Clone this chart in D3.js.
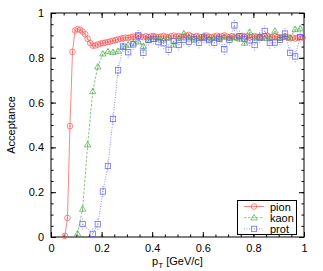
<!DOCTYPE html>
<html>
<head>
<meta charset="utf-8">
<script src="https://cdn.jsdelivr.net/npm/d3@7"></script>
<style>
  body { margin: 0; background: #fff; }
  text { font-family: "Liberation Sans", Arial, sans-serif; font-size: 11px; fill: #000; }
  .axis path { stroke: #000; }
  .axis line { stroke: #000; }
</style>
</head>
<body>
<script>
// tick labels
var xTicks = [0, 0.2, 0.4, 0.6, 0.8, 1];
var yTicks = [0, 0.2, 0.4, 0.6, 0.8, 1];

// pion: pT bin centres and acceptance
var pionPt = [0.055,0.065,0.075,0.085,0.095,0.105,0.115,0.125,0.135,0.145,
  0.155,0.165,0.175,0.185,0.195,0.205,0.215,0.225,0.235,0.245,
  0.255,0.265,0.275,0.285,0.295,0.305,0.315,0.325,0.335,0.345,
  0.355,0.365,0.375,0.385,0.395,0.405,0.415,0.425,0.435,0.445,
  0.455,0.465,0.475,0.485,0.495,0.505,0.515,0.525,0.535,0.545,
  0.555,0.565,0.575,0.585,0.595,0.605,0.615,0.625,0.635,0.645,
  0.655,0.665,0.675,0.685,0.695,0.705,0.715,0.725,0.735,0.745,
  0.755,0.765,0.775,0.785,0.795,0.805,0.815,0.825,0.835,0.845,
  0.855,0.865,0.875,0.885,0.895,0.905,0.915,0.925,0.935,0.945,
  0.955,0.965,0.975,0.985,0.995];
var pionAcc = [0.005,0.085,0.495,0.827,0.922,0.928,0.925,0.917,0.905,0.885,
  0.866,0.854,0.855,0.859,0.863,0.866,0.868,0.870,0.873,0.876,
  0.879,0.882,0.885,0.888,0.890,0.889,0.892,0.895,0.893,0.897,
  0.894,0.892,0.896,0.893,0.895,0.897,0.894,0.892,0.895,0.898,
  0.893,0.891,0.896,0.899,0.894,0.897,0.893,0.895,0.899,0.902,
  0.896,0.893,0.897,0.895,0.892,0.896,0.899,0.894,0.891,0.895,
  0.898,0.893,0.896,0.900,0.895,0.892,0.896,0.894,0.890,0.895,
  0.898,0.893,0.896,0.891,0.894,0.897,0.893,0.895,0.892,0.896,
  0.899,0.894,0.891,0.895,0.893,0.889,0.893,0.896,0.891,0.887,
  0.890,0.886,0.889,0.893,0.890];

// kaon
var kaonPt = [0.105,0.125,0.145,0.165,0.185,0.205,0.225,0.245,0.265,0.285,
  0.305,0.325,0.345,0.365,0.385,0.405,0.425,0.445,0.465,0.485,
  0.505,0.525,0.545,0.565,0.585,0.605,0.625,0.645,0.665,0.685,
  0.705,0.725,0.745,0.765,0.785,0.805,0.825,0.845,0.865,0.885,
  0.905,0.925,0.945,0.965,0.985];
var kaonAcc = [0.015,0.125,0.412,0.650,0.760,0.818,0.828,0.825,0.830,0.850,
  0.858,0.866,0.872,0.852,0.878,0.883,0.886,0.880,0.889,0.858,
  0.887,0.908,0.890,0.885,0.888,0.892,0.884,0.889,0.886,0.893,
  0.887,0.890,0.885,0.866,0.915,0.889,0.893,0.887,0.890,0.920,
  0.888,0.893,0.890,0.927,0.930];

// proton
var protPt = [0.125,0.165,0.185,0.205,0.225,0.245,0.265,0.285,0.305,0.325,
  0.345,0.365,0.385,0.405,0.425,0.445,0.465,0.485,0.505,0.525,
  0.545,0.565,0.585,0.605,0.625,0.645,0.665,0.685,0.705,0.725,
  0.745,0.765,0.785,0.805,0.825,0.845,0.865,0.885,0.905,0.925,
  0.945,0.965,0.985];
var protAcc = [0.058,0.014,0.057,0.203,0.317,0.527,0.744,0.850,0.825,0.860,
  0.900,0.823,0.880,0.885,0.870,0.865,0.836,0.875,0.857,0.880,
  0.872,0.882,0.867,0.890,0.879,0.867,0.885,0.838,0.880,0.945,
  0.897,0.885,0.878,0.857,0.890,0.920,0.866,0.868,0.880,0.908,
  0.822,0.806,0.893];

var seriesNames = ["pion", "kaon", "prot"];
var seriesErr = [0.005, 0.012, 0.025];

var width = 323, height = 271;
var margin = {left: 51, right: 19, top: 13, bottom: 34};

var x = d3.scaleLinear().domain([0, 1]).range([margin.left, width - margin.right]);
var y = d3.scaleLinear().domain([0, 1]).range([height - margin.bottom, margin.top]);

var svg = d3.select("body").append("svg")
    .attr("width", width)
    .attr("height", height);

svg.append("rect").attr("width", width).attr("height", height).attr("fill", "#fff");

var minor = d3.range(0, 1.0001, 0.05);

// minor ticks on all four sides
svg.append("g").attr("class", "axis")
    .attr("transform", "translate(0," + y(0) + ")")
    .call(d3.axisBottom(x).tickValues(minor).tickSize(-2.5).tickFormat(""))
    .call(g => g.select(".domain").remove());
svg.append("g").attr("class", "axis")
    .attr("transform", "translate(0," + y(1) + ")")
    .call(d3.axisTop(x).tickValues(minor).tickSize(-2.5).tickFormat(""))
    .call(g => g.select(".domain").remove());
svg.append("g").attr("class", "axis")
    .attr("transform", "translate(" + x(0) + ",0)")
    .call(d3.axisLeft(y).tickValues(minor).tickSize(-2.5).tickFormat(""))
    .call(g => g.select(".domain").remove());
svg.append("g").attr("class", "axis")
    .attr("transform", "translate(" + x(1) + ",0)")
    .call(d3.axisRight(y).tickValues(minor).tickSize(-2.5).tickFormat(""))
    .call(g => g.select(".domain").remove());

// major ticks with labels
svg.append("g").attr("class", "axis")
    .attr("transform", "translate(0," + y(0) + ")")
    .call(d3.axisBottom(x).tickValues(xTicks).tickSize(-5).tickPadding(7).tickFormat(d3.format("")))
    .call(g => g.select(".domain").remove());
svg.append("g").attr("class", "axis")
    .attr("transform", "translate(0," + y(1) + ")")
    .call(d3.axisTop(x).tickValues(xTicks).tickSize(-5).tickFormat(""))
    .call(g => g.select(".domain").remove());
svg.append("g").attr("class", "axis")
    .attr("transform", "translate(" + x(0) + ",0)")
    .call(d3.axisLeft(y).tickValues(yTicks).tickSize(-5).tickPadding(7).tickFormat(d3.format("")))
    .call(g => g.select(".domain").remove());
svg.append("g").attr("class", "axis")
    .attr("transform", "translate(" + x(1) + ",0)")
    .call(d3.axisRight(y).tickValues(yTicks).tickSize(-5).tickFormat(""))
    .call(g => g.select(".domain").remove());

svg.selectAll(".axis text").style("font-size", "11px");

// frame
svg.append("rect")
    .attr("x", x(0)).attr("y", y(1))
    .attr("width", x(1) - x(0)).attr("height", y(0) - y(1))
    .attr("fill", "none").attr("stroke", "#000").attr("stroke-width", 1);

// axis titles
svg.append("text")
    .attr("transform", "translate(15," + (y(0.5)) + ") rotate(-90)")
    .attr("text-anchor", "middle")
    .text("Acceptance");

var xl = svg.append("text")
    .attr("x", (x(0) + x(1)) / 2)
    .attr("y", 265)
    .attr("text-anchor", "middle");
xl.append("tspan").text("p");
xl.append("tspan").attr("dy", 3).style("font-size", "8px").text("T");
xl.append("tspan").attr("dy", -3).text(" [GeV/c]");

var colors = ["#ff5050", "#4aae4a", "#5c5cff"];
var dashes = [null, "2.5,1.5", "1,1.5"];
var data = [
  pionPt.map((p, i) => [p, pionAcc[i]]),
  kaonPt.map((p, i) => [p, kaonAcc[i]]),
  protPt.map((p, i) => [p, protAcc[i]])
];

var line = d3.line().x(d => x(d[0])).y(d => y(d[1]));

function marker(g, k, cx, cy) {
  if (k === 0) {
    g.append("circle").attr("cx", cx).attr("cy", cy).attr("r", 2.8);
  } else if (k === 1) {
    var s = 3.2;
    g.append("path").attr("d", "M" + cx + "," + (cy - s) + "L" + (cx + s) + "," + (cy + s * 0.7) + "L" + (cx - s) + "," + (cy + s * 0.7) + "Z");
  } else {
    var h = 2.7;
    g.append("rect").attr("x", cx - h).attr("y", cy - h).attr("width", 2 * h).attr("height", 2 * h);
  }
}

data.forEach(function(pts, k) {
  var g = svg.append("g")
      .attr("stroke", colors[k])
      .attr("fill", "none")
      .attr("stroke-width", 0.7);

  // error bars
  g.selectAll("line.err").data(pts).enter().append("line")
      .attr("class", "err")
      .attr("x1", d => x(d[0])).attr("x2", d => x(d[0]))
      .attr("y1", d => y(Math.max(0, d[1] - seriesErr[k])))
      .attr("y2", d => y(Math.min(1, d[1] + seriesErr[k])))
      .attr("stroke-dasharray", dashes[k]);

  g.append("path").datum(pts)
      .attr("d", line)
      .attr("stroke-dasharray", dashes[k]);

  var mg = g.append("g");
  pts.forEach(d => marker(mg, k, x(d[0]), y(d[1])));
});

// legend
var lg = svg.append("g");
lg.append("rect")
    .attr("x", 237.5).attr("y", 200.5)
    .attr("width", 59).attr("height", 34)
    .attr("fill", "#fff").attr("stroke", "#000").attr("stroke-width", 1);

seriesNames.forEach(function(name, k) {
  var cy = 206.5 + k * 11.2;
  var g = lg.append("g").attr("stroke", colors[k]).attr("fill", "none").attr("stroke-width", 0.7);
  g.append("line").attr("x1", 244).attr("x2", 264).attr("y1", cy).attr("y2", cy)
      .attr("stroke-dasharray", dashes[k]);
  marker(g, k, 254, cy);
  lg.append("text").attr("x", 270).attr("y", cy + 4).text(name);
});
</script>
</body>
</html>
